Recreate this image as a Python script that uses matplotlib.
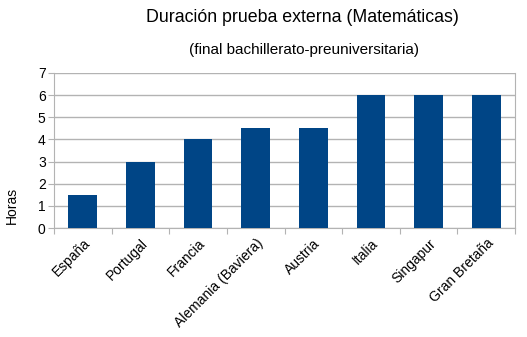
import matplotlib
matplotlib.use("Agg")
import matplotlib.pyplot as plt

plt.rcParams['font.family'] = ['Liberation Sans', 'DejaVu Sans']

paises = ["España", "Portugal", "Francia", "Alemania (Baviera)", "Austria",
          "Italia", "Singapur", "Gran Bretaña"]
horas = [1.5, 3, 4, 4.5, 4.5, 6, 6, 6]

fig = plt.figure(figsize=(5.27, 3.37), dpi=100)
ax = fig.add_axes([54/527, 1 - 228/337, (515-54)/527, (228-73)/337])

x = range(len(paises))
ax.bar(x, horas, width=0.5, color='#004586', zorder=3)

ax.set_xlim(-0.5, len(paises) - 0.5)
ax.set_ylim(0, 7)
ax.set_yticks(range(0, 8))
ax.tick_params(axis='y', length=4, color='#b3b3b3', labelsize=10, pad=2)
ax.set_xticks([i - 0.5 for i in range(len(paises) + 1)], minor=False)
ax.set_xticklabels([])
ax.set_xticks(list(x), minor=True)
ax.set_xticklabels(paises, minor=True, rotation=45, ha='right', va='top',
                   rotation_mode='anchor', fontsize=10)
ax.tick_params(axis='x', which='major', length=4, color='#b3b3b3')
ax.tick_params(axis='x', which='minor', length=0, pad=6)

ax.grid(axis='y', color='#b3b3b3', linewidth=1, zorder=0)
ax.spines['top'].set_visible(False)
for s in ['left', 'right', 'bottom']:
    ax.spines[s].set_color('#b3b3b3')

fig.text(302/527, 1 - 18/337, "Duración prueba externa (Matemáticas)",
         ha='center', va='center', fontsize=12.8)
fig.text(304/527, 1 - 50/337, "(final bachillerato-preuniversitaria)",
         ha='center', va='center', fontsize=11)
fig.text(12/527, 1 - 205/337, "Horas", rotation=90, ha='center', va='center',
         fontsize=10)

fig.savefig("out.png", dpi=100)
